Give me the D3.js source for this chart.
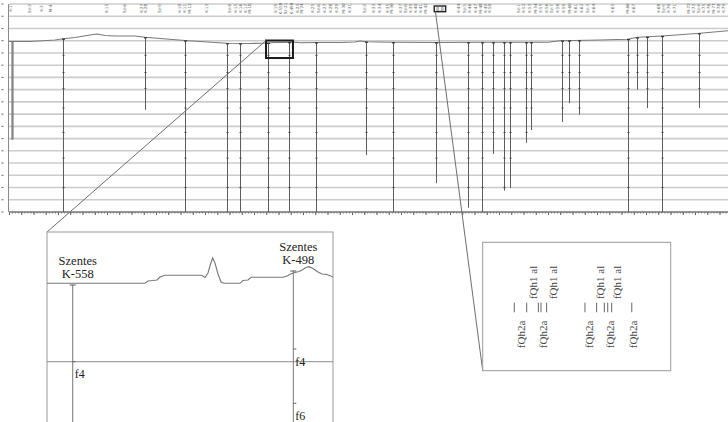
<!DOCTYPE html>
<html><head><meta charset="utf-8">
<script src="https://cdn.jsdelivr.net/npm/d3@7"></script>
<style>body{margin:0;background:#fff}svg{display:block}</style>
</head><body>
<svg id="c" width="728" height="422"></svg>
<script>
// ---------- main section data (x in km, depth in m) ----------
const gridDepths = [-60,-40,-20,0,20,40,60,80,100,120,140,160,180,200,220,240,260,280];
const surfaceX = [0,1.71,3.76,4.41,5.39,6.61,7.18,7.84,8.65,10.29,11.1,12.33,14.37,15.59,17.8,19.67,20.98,21.71,22.53,23.18,23.76,25.06,27.02,28.24,28.65,29.14,31.35,34.86,38.61,44.0,44.98,48.24,50.45,51.35,53.31,56.41,58.69];
const surfaceD = [1.3,1.3,-1.1,-3.3,-5.2,-9.3,-10.9,-8.5,-7.7,-7.7,-5.6,-3.6,-0.3,1.3,4.2,4.6,3.8,2.9,2.9,2.1,3.3,2.9,2.9,2.1,0.5,1.6,2.6,2.9,2.6,2.6,0,-1.1,-2.3,-5.6,-7.7,-12.1,-16.3];
const wellX = [0.16,4.41,11.1,14.37,17.8,18.86,21.18,22.87,25.06,29.14,31.35,34.86,37.47,38.61,39.51,40.41,40.9,42.2,42.61,45.14,45.71,46.53,50.53,51.27,52.08,53.31,56.33];
const wellBottom = [162,280,113,280,280,280,280,280,280,187,280,233,273,280,185,245,241,167,146,133,102,121,280,80,110,280,110];
const wellKind = ["dense","plain","plain","plain","plain","plain","plain","plain","plain","plain","plain","plain","plain","plain","plain","plain","plain","plain","plain","plain","plain","plain","plain","plain","plain","plain","plain"];
const layerDepths = [24,52,78,110,150,192,240];
const topLabelX = [0.16,1.71,2.67,3.4,7.98,9.47,10.86,11.18,12.33,13.96,14.37,14.78,16.16,18.04,18.53,18.94,19.35,19.67,21.8,22.2,22.61,23.1,23.59,23.92,24.82,25.31,25.8,26.29,26.78,27.35,27.84,29.06,29.8,30.29,30.94,31.27,32.0,32.41,32.82,33.22,33.63,34.04,35.18,36.73,37.22,37.63,38.12,38.53,38.94,39.27,41.63,42.04,42.53,43.02,43.43,43.92,44.33,44.82,45.31,45.8,46.29,46.78,47.27,47.76,49.31,50.53,51.02,53.06,53.47,53.88,54.37,55.51,55.92,56.33,56.73,57.14,57.55,57.96,58.37];
const topLabelText = ["K-1","Sz-2","K-3","M-4","K-15","Sz-6","K-27","K-28","Sz-9","K-10","K-11","M-12","K-13","Sz-4","K-15","K-16","K-17","M-18","K-19","K-558","Sz-21","K-498","K-23","M-24","K-25","Sz-6","K-27","K-28","K-29","M-30","K-31","Sz-2","K-33","K-34","K-35","M-36","K-37","Sz-8","K-39","K-40","K-41","M-42","8.8","K-44","Sz-5","K-46","K-47","M-48","K-49","K-50","Sz-1","K-52","K-53","M-54","K-55","K-56","Sz-7","K-58","K-59","M-60","K-61","K-62","Sz-3","K-64","K-65","M-66","K-67","K-68","Sz-9","K-70","K-71","M-72","K-73","Sz-4","K-75","K-76","M-77","K-78","K-79"];
const boxedLabel = "8.8";
const zoomBoxX = [20.98, 23.18];
const zoomBoxD = [-0.3, 28.3];

// ---------- inset 1 (detail section) ----------
const in1SurfX = [0,34.27,35.31,37.06,38.46,39.51,41.26,54.09,55.24,56.29,57.17,57.94,58.74,59.79,60.84,61.89,67.48,68.53,70.28,71.33,82.52,83.92,84.97,86.71,88.11,89.16,90.56,91.61,93.01,94.76,96.15,97.9,100];
const in1SurfY = [25.65,25.65,24.5,24.25,24,22.5,21.65,21.65,22.75,20.5,16,13,15.5,21,25,25.65,25.65,24.25,24,22.65,22.65,22,21.15,20.25,19.75,19,17.75,17.35,18.25,20,21,21.25,22.5];
const in1WellName = ["Szentes", "Szentes"];
const in1WellId = ["K-558", "K-498"];
const in1WellX = [8.99, 86.12];
const in1WellTop = [26.5, 19.5];
const in1TickWell = [0, 1, 1];
const in1TickDepth = [64.85, 58.5, 85.65];
const in1TickLabel = ["f4", "f4", "f6"];
const in1Grid = [64.85];

// ---------- inset 2 (label detail) ----------
const in2TickX = [16.8,23.4,29.6,31.0,34.0,54.4,60.6,64.7,66.5,68.6,79.3];
const in2LowerX = [22.6,34.1,58.9,69.9,82.3];
const in2LowerText = ["fQh2a","fQh2a","fQh2a","fQh2a","fQh2a"];
const in2UpperX = [28.8,39.4,64.6,73.5];
const in2UpperText = ["fQh1 al","fQh1 al","fQh1 al","fQh1 al"];

// ---------- drawing ----------
const svg = d3.select("#c");
const W = 728;
const x = d3.scaleLinear().domain([0,60]).range([9,744]);
const y = d3.scaleLinear().domain([-60,280]).range([4,212]);
const surfAt = d3.scaleLinear().domain(surfaceX).range(surfaceD).clamp(true);

// grid
svg.append("g").selectAll("line").data(gridDepths).join("line")
  .attr("x1", x(0)).attr("x2", W)
  .attr("y1", d=>y(d)).attr("y2", d=>y(d))
  .attr("stroke", "#cccccc").attr("stroke-width", 1.6);

// left axis
svg.append("line").attr("x1", 8.5).attr("x2", 8.5).attr("y1", y(-60)).attr("y2", y(280))
  .attr("stroke", "#8a8a8a").attr("stroke-width", 1);
svg.append("g").selectAll("line").data(gridDepths).join("line")
  .attr("x1", 1.5).attr("x2", 3.5).attr("y1", d=>y(d)).attr("y2", d=>y(d))
  .attr("stroke", "#666").attr("stroke-width", 1);

// bottom axis
const major = d3.axisBottom(x).tickValues(d3.range(0,60,1)).tickSize(3).tickFormat("");
const gA = svg.append("g").attr("transform", `translate(0,${y(280)})`).call(major);
gA.select(".domain").attr("stroke", "#555").attr("d", `M${x(0)},0H${W}`);
gA.selectAll(".tick line").attr("stroke", "#555");
const minor = d3.axisBottom(x).tickValues(d3.range(0,59.8,0.25)).tickSize(1.5).tickFormat("");
const gM = svg.append("g").attr("transform", `translate(0,${y(280)})`).call(minor);
gM.select(".domain").remove();
gM.selectAll(".tick line").attr("stroke", "#777");

// surface
svg.append("path").datum(surfaceX.map((v,i)=>[v,surfaceD[i]]))
  .attr("d", d3.line().x(d=>x(d[0])).y(d=>y(d[1])))
  .attr("fill","none").attr("stroke","#7a7a7a").attr("stroke-width",1.1);

// wells
const wells = wellX.map((v,i)=>({x:v, top:surfAt(v), bot:wellBottom[i], kind:wellKind[i]}));
const gW = svg.append("g");
wells.forEach(w => {
  const px = Math.round(x(w.x)) + 0.5;
  if (w.kind === "dense") {
    gW.append("line").attr("x1",px+1).attr("x2",px+1).attr("y1",y(w.top)).attr("y2",y(w.bot))
      .attr("stroke","#666").attr("stroke-width",3).attr("stroke-dasharray","1,1");
    gW.append("line").attr("x1",px+1).attr("x2",px+1).attr("y1",y(w.top)).attr("y2",y(w.bot))
      .attr("stroke","#888").attr("stroke-width",1);
  } else {
    gW.append("line").attr("x1",px).attr("x2",px).attr("y1",y(w.top)).attr("y2",y(w.bot))
      .attr("stroke","#5c5c5c").attr("stroke-width",1);
    gW.append("line").attr("x1",px-1.5).attr("x2",px+1.5).attr("y1",y(w.top)+0.5).attr("y2",y(w.top)+0.5)
      .attr("stroke","#333").attr("stroke-width",1.2);
    layerDepths.filter(d=>d < w.bot-3 && d > w.top+4).forEach(d=>{
      gW.append("line").attr("x1",px-1).attr("x2",px+1).attr("y1",y(d)).attr("y2",y(d))
        .attr("stroke","#444").attr("stroke-width",1);
    });
  }
});

// top labels
const gT = svg.append("g").attr("font-family","DejaVu Sans").attr("fill","#5e5e5e");
topLabelX.forEach((v,i)=>{
  const t = topLabelText[i];
  if (t === boxedLabel) {
    gT.append("text").attr("x", x(v)).attr("y", 10.8).attr("text-anchor","middle")
      .attr("font-size", 5).attr("fill","#555").text(t);
    gT.append("rect").attr("x", x(v)-5.7).attr("y", 6).attr("width", 11.4).attr("height", 5.7)
      .attr("fill","none").attr("stroke","#222").attr("stroke-width",1.4);
  } else {
    gT.append("text").attr("transform", `translate(${x(v)+1.2},8.5) rotate(-90)`)
      .attr("text-anchor","middle").attr("font-size", 4.2).text(t);
  }
});
const boxedX = topLabelX[topLabelText.indexOf(boxedLabel)];

// zoom box on main section
svg.append("rect").attr("x", x(zoomBoxX[0])).attr("y", y(zoomBoxD[0]))
  .attr("width", x(zoomBoxX[1])-x(zoomBoxX[0])).attr("height", y(zoomBoxD[1])-y(zoomBoxD[0]))
  .attr("fill","none").attr("stroke","#1a1a1a").attr("stroke-width",2);

// inset frames
const I1 = {l:47, t:232, r:333, b:440};
const I2 = {l:482.7, t:242.3, r:670.7, b:370.7};

// connector lines
svg.append("line").attr("x1", x(zoomBoxX[0])).attr("y1", y(zoomBoxD[0]))
  .attr("x2", I1.l).attr("y2", I1.t).attr("stroke","#6e6e6e").attr("stroke-width",1);
svg.append("line").attr("x1", x(boxedX)-4.5).attr("y1", 11.7)
  .attr("x2", I2.l).attr("y2", I2.b).attr("stroke","#6e6e6e").attr("stroke-width",1);

// ---- inset 1 ----
const g1 = svg.append("g");
g1.append("rect").attr("x",I1.l).attr("y",I1.t).attr("width",I1.r-I1.l).attr("height",I1.b-I1.t)
  .attr("fill","#fff").attr("stroke","#999").attr("stroke-width",1);
const ix = d3.scaleLinear().domain([0,100]).range([I1.l, I1.r]);
const iy = d3.scaleLinear().domain([0,100]).range([I1.t, I1.t+200]);
g1.selectAll("line.grid").data(in1Grid).join("line").attr("class","grid")
  .attr("x1", I1.l).attr("x2", I1.r).attr("y1", d=>iy(d)).attr("y2", d=>iy(d))
  .attr("stroke","#8c8c8c").attr("stroke-width",1);
g1.append("path").datum(in1SurfX.map((v,i)=>[v,in1SurfY[i]]))
  .attr("d", d3.line().x(d=>ix(d[0])).y(d=>iy(d[1])))
  .attr("fill","none").attr("stroke","#777").attr("stroke-width",1.1);
const serif = "Liberation Serif, Times New Roman, serif";
in1WellX.forEach((v,i)=>{
  const px = ix(v), pt = iy(in1WellTop[i]);
  g1.append("line").attr("x1",px).attr("x2",px).attr("y1",pt).attr("y2",I1.b)
    .attr("stroke","#777").attr("stroke-width",1);
  g1.append("line").attr("x1",px-3).attr("x2",px+3).attr("y1",pt).attr("y2",pt)
    .attr("stroke","#555").attr("stroke-width",1);
  g1.append("text").attr("x", px+5).attr("y", pt-20).attr("text-anchor","middle")
    .attr("font-family",serif).attr("font-size",12.5).attr("fill","#222").text(in1WellName[i]);
  g1.append("text").attr("x", px+5).attr("y", pt-7.5).attr("text-anchor","middle")
    .attr("font-family",serif).attr("font-size",12.5).attr("fill","#222").text(in1WellId[i]);
});
in1TickDepth.forEach((d,i)=>{
  const px = ix(in1WellX[in1TickWell[i]]), py = iy(d);
  g1.append("line").attr("x1",px).attr("x2",px+3).attr("y1",py).attr("y2",py)
    .attr("stroke","#666").attr("stroke-width",1);
  g1.append("text").attr("x", px+2).attr("y", py+16.5)
    .attr("font-family",serif).attr("font-size",12).attr("fill","#222").text(in1TickLabel[i]);
});

// ---- inset 2 ----
const g2 = svg.append("g");
g2.append("rect").attr("x",I2.l).attr("y",I2.t).attr("width",I2.r-I2.l).attr("height",I2.b-I2.t)
  .attr("fill","#fff").attr("stroke","#999").attr("stroke-width",1);
const jx = d3.scaleLinear().domain([0,100]).range([I2.l, I2.r]);
const jy = d3.scaleLinear().domain([0,100]).range([I2.t, I2.b]);
g2.selectAll("line.tk").data(in2TickX).join("line").attr("class","tk")
  .attr("x1", d=>jx(d)).attr("x2", d=>jx(d)).attr("y1", jy(47)).attr("y2", jy(54.5))
  .attr("stroke","#666").attr("stroke-width",1);
in2LowerX.forEach((v,i)=>{
  g2.append("text").attr("transform", `translate(${jx(v)},${jy(82.5)}) rotate(-90)`)
    .attr("font-family",serif).attr("font-size",11).attr("fill","#444").text(in2LowerText[i]);
});
in2UpperX.forEach((v,i)=>{
  g2.append("text").attr("transform", `translate(${jx(v)},${jy(44.2)}) rotate(-90)`)
    .attr("font-family",serif).attr("font-size",11).attr("fill","#444").text(in2UpperText[i]);
});
</script>
</body></html>
